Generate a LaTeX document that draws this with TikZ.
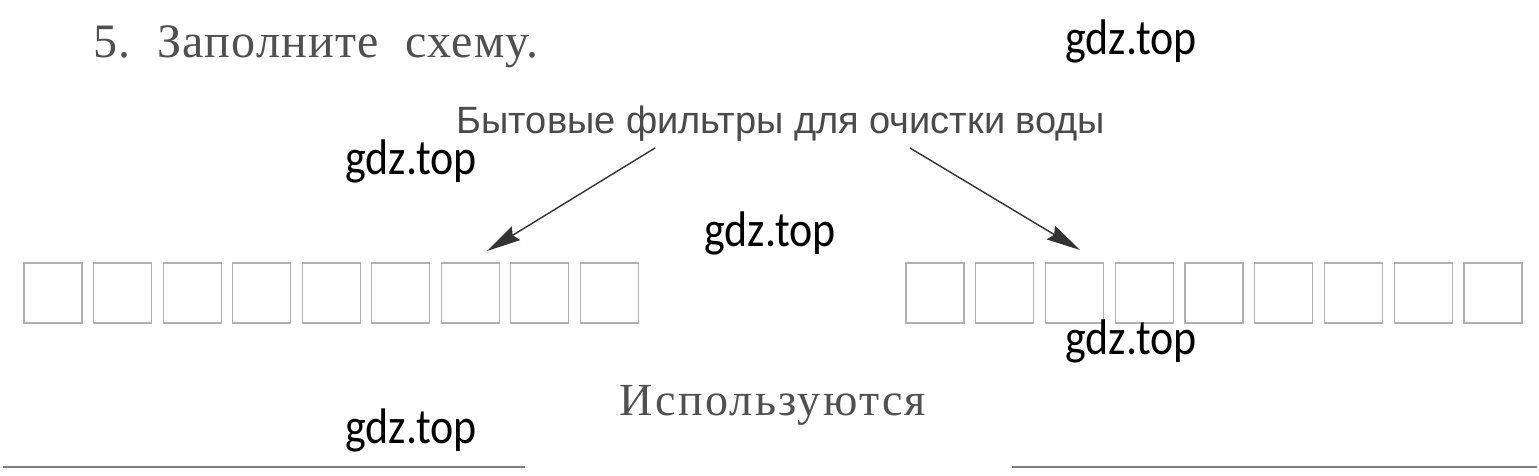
\documentclass[tikz,border=0pt]{standalone}
\usepackage{fontspec}
\usetikzlibrary{arrows.meta}
\newfontfamily\serifru{Liberation Serif}
\newfontfamily\serifsp[LetterSpace=2.7]{Liberation Serif}
\newfontfamily\serifsq[LetterSpace=5]{Liberation Serif}
\newfontfamily\sansru{Liberation Sans}
\newfontfamily\wmfont{Carlito}
\definecolor{txtgray}{HTML}{505050}
\definecolor{titlegray}{HTML}{4A4A4A}
\definecolor{boxgray}{HTML}{B0B0B0}
\definecolor{linegray}{HTML}{7E7E7E}
\definecolor{arrgray}{HTML}{333333}
\begin{document}
\begin{tikzpicture}[x=1pt,y=-1pt,
  cell/.style={draw=boxgray,line width=1.2pt,minimum width=58pt,minimum height=60pt,inner sep=0pt,outer sep=0pt},
  wmark/.style={font=\wmfont\fontsize{50}{54}\selectfont,text=black,anchor=base west,inner sep=0pt},
  arr/.style={draw=arrgray,line width=1.4pt,-{Stealth[length=34pt,width=16pt,inset=4pt]}},
  rulel/.style={draw=linegray,line width=2.5pt}]
\useasboundingbox[fill=white] (0,0) rectangle (1539,475);
% heading
\node[anchor=base west,inner sep=0pt,text=txtgray,font=\serifsp\fontsize{48}{52}\selectfont] (head) at (93,57) {5.\ \ Заполните\ \ схему.};
% title
\node[anchor=base,inner sep=0pt,text=titlegray,font=\sansru\fontsize{38}{42}\selectfont] (title) at (781,133) {Бытовые фильтры для очистки воды};
% bottom word
\node[anchor=base,inner sep=0pt,text=txtgray,font=\serifsq\fontsize{46}{50}\selectfont] (used) at (773,415) {Используются};
% boxes
\foreach \i in {1,...,9} {
  \node[cell] (L\i) at ({53+(\i-1)*69.55},293) {};
  \node[cell] (R\i) at ({935+(\i-1)*69.75},293) {};
}
% arrows
\coordinate (ls) at (655,148);
\coordinate (lt) at (487,251);
\coordinate (rs) at (910,148);
\coordinate (rt) at (1080,250);
\draw[arr] (ls) -- (lt);
\draw[arr] (rs) -- (rt);
% answer lines
\coordinate (a1) at (3,467);
\coordinate (a2) at (525,467);
\coordinate (b1) at (1012,467);
\coordinate (b2) at (1537,467);
\draw[rulel] (a1) -- (a2);
\draw[rulel] (b1) -- (b2);
% watermarks
\node[wmark] (w1) at (1065,54) {\scalebox{0.88}[1]{gdz.top}};
\node[wmark] (w2) at (345,174) {\scalebox{0.88}[1]{gdz.top}};
\node[wmark] (w3) at (704,246) {\scalebox{0.88}[1]{gdz.top}};
\node[wmark] (w4) at (1065,354) {\scalebox{0.88}[1]{gdz.top}};
\node[wmark] (w5) at (345,443) {\scalebox{0.88}[1]{gdz.top}};
\end{tikzpicture}
\end{document}
